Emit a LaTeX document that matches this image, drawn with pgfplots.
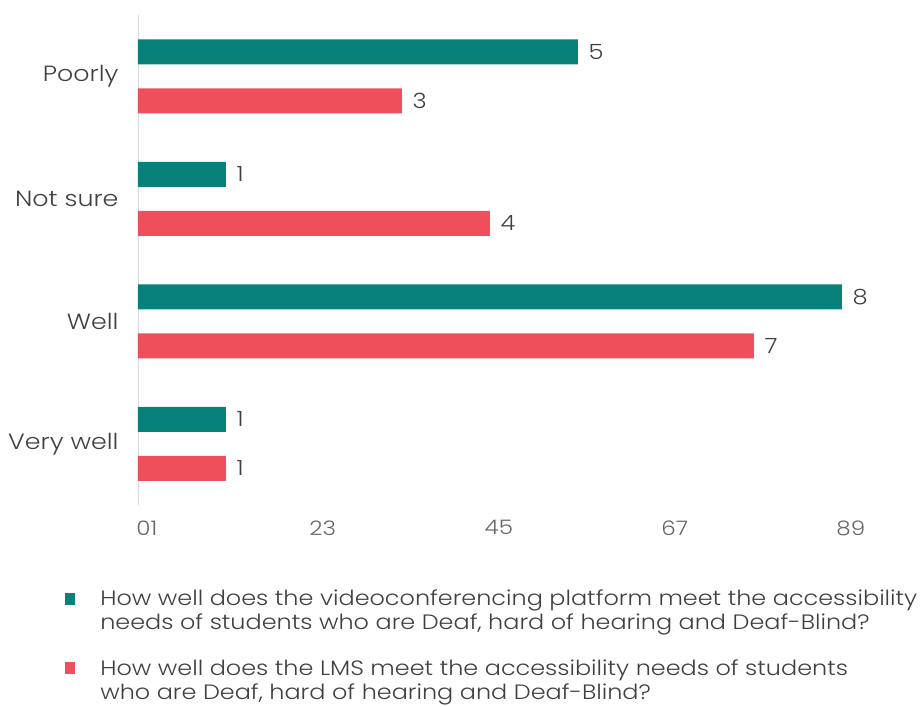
\documentclass[border=0pt]{standalone}
\usepackage{pgfplots}
\pgfplotsset{compat=1.18}
\usepackage{fontspec}
\setmainfont{Poppins Light}[FakeStretch=1.15]
\definecolor{teal1}{RGB}{8,129,123}
\definecolor{red1}{RGB}{239,79,90}
\definecolor{txt}{RGB}{64,64,64}
\begin{document}
\begin{tikzpicture}
\useasboundingbox (-138pt,-202pt) rectangle (784pt,505pt);
\begin{axis}[at={(0,0)}, anchor=south west, scale only axis,
  width=774.4pt, height=490pt,
  xmin=0, xmax=8.8, ymin=-0.5, ymax=3.5,
  xbar, bar width=25pt,
  axis x line*=bottom, axis y line*=left,
  x axis line style={draw=none}, y axis line style={draw=black!15},
  major tick length=0pt,
  xtick={0.1,2.1,4.1,6.1,8.1}, xticklabels={01,23,45,67,89},
  ytick={0,1,2,3}, yticklabels={Very well,Well,Not sure,Poorly},
  tick label style={font=\fontsize{22}{24}\selectfont, text=txt},
  yticklabel style={xshift=-16pt},
  xticklabel style={yshift=-12pt, text=black!60, font=\fontsize{20}{24}\selectfont},
  /pgf/number format/assume math mode=true,
  nodes near coords,
  nodes near coords style={font=\fontsize{21}{24}\selectfont, text=txt, anchor=west, xshift=7pt},
  legend image code/.code={\fill[#1] (0pt,6pt) rectangle (10pt,18pt); \path (33pt,0pt);},
  legend style={at={(rel axis cs:-0.098,-0.165)}, anchor=north west, draw=none,
    font=\fontsize{20.8}{24}\selectfont, text=txt, cells={align=left}, row sep=24pt},
  legend cell align=left,
]
\addplot[fill=teal1, draw=none, bar shift=24.5pt] coordinates {(5,3) (1,2) (8,1) (1,0)};
\addplot[fill=red1, draw=none, bar shift=-24.5pt] coordinates {(3,3) (4,2) (7,1) (1,0)};
\legend{{How well does the videoconferencing platform meet the accessibility\\needs of students who are Deaf, hard of hearing and Deaf-Blind?},
{How well does the LMS meet the accessibility needs of students\\who are Deaf, hard of hearing and Deaf-Blind?}}
\end{axis}
\end{tikzpicture}
\end{document}
